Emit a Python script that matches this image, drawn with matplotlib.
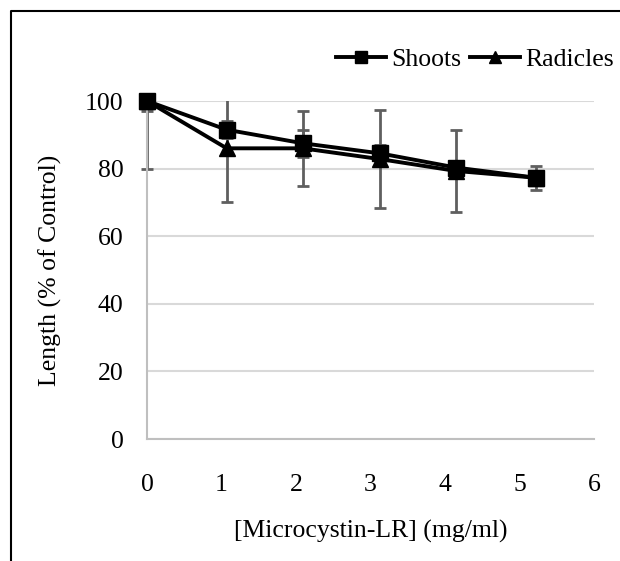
import matplotlib
matplotlib.use("Agg")
from matplotlib import pyplot as plt
from matplotlib.lines import Line2D
from matplotlib.patches import Rectangle

plt.rcParams['font.family'] = ['Liberation Serif', 'DejaVu Serif']
plt.rc('font', size=18.5)

# data
conc = [0, 1.07, 2.09, 3.13, 4.15, 5.22]
shoots = [100, 91.5, 87.5, 84.5, 80.3, 77.3]
shoots_err = [3, 2.5, 4, 2.5, 2, 1.5]
radicles = [100, 86, 86, 82.8, 79.3, 77.3]
radicles_err = [20, 16, 11, 14.6, 12, 3.5]

fig = plt.figure(figsize=(6.2, 5.61), dpi=100)
ax = fig.add_axes([147 / 620, 1 - 439 / 561, (594 - 147) / 620, (439 - 101) / 561])

# error bars clipped at the top of the plot area only
clip = Rectangle((-0.05, -0.05), 1.1, 1.05, transform=ax.transAxes,
                 facecolor='none', edgecolor='none')
errc = '#5f5f5f'
for vals, errs in [(radicles, radicles_err), (shoots, shoots_err)]:
    eb = ax.errorbar(conc, vals, yerr=errs, fmt='none', ecolor=errc,
                     elinewidth=2, capsize=4, capthick=2, zorder=2)
    for art in eb.lines[1] + eb.lines[2]:
        art.set_clip_path(clip)

ax.plot(conc, shoots, color='black', lw=2.8, marker='s', ms=11,
        label='Shoots', zorder=4, clip_on=False)
ax.plot(conc, radicles, color='black', lw=2.8, marker='^', ms=11,
        label='Radicles', zorder=3, clip_on=False)

ax.set_xlim(0, 6)
ax.set_ylim(0, 100)
ax.set_xticks(range(0, 7))
ax.set_yticks(range(0, 101, 20))
ax.yaxis.grid(True, color='#d9d9d9', lw=1.5)
ax.set_axisbelow(True)
for s in ['top', 'right']:
    ax.spines[s].set_visible(False)
for s in ['left', 'bottom']:
    ax.spines[s].set_color('#bfbfbf')
    ax.spines[s].set_linewidth(1.5)
ax.tick_params(length=0)
ax.tick_params(axis='y', pad=17)
ax.tick_params(axis='x', pad=25)

ax.set_xlabel('[Microcystin-LR] (mg/ml)')
ax.set_ylabel('Length (% of Control)')
ax.xaxis.set_label_coords(0.5, -0.24)
ax.yaxis.set_label_coords(-0.19, 0.5)

ax.legend(loc='center right', bbox_to_anchor=(614 / 620, 1 - 60 / 561),
          bbox_transform=fig.transFigure, ncol=2, frameon=False,
          handlelength=1.95, handletextpad=0.2, columnspacing=0.35,
          borderpad=0, borderaxespad=0, markerscale=0.85)

# chart border (left and top visible)
fig.add_artist(Line2D([11 / 620, 11 / 620, 1.0], [0.0, 1 - 11 / 561, 1 - 11 / 561],
                      transform=fig.transFigure, color='black', lw=1.5))

plt.savefig("out.png", dpi=100)
